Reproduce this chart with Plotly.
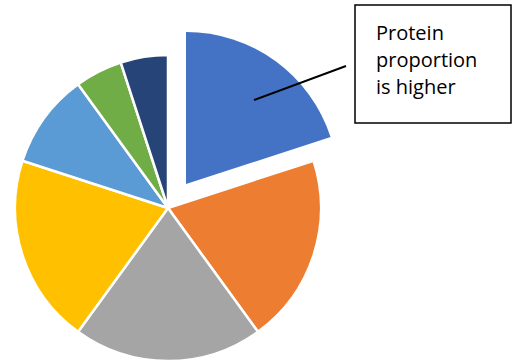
import plotly.graph_objects as go

W, H = 519, 363

categories = ["Protein", "Fat", "Carbohydrate", "Fibre", "Water", "Minerals", "Vitamins"]
values = [20, 20, 20, 20, 10, 5, 5]
colors = ["#4472C4", "#ED7D31", "#A5A5A5", "#FFC000", "#5B9BD5", "#70AD47", "#264478"]
highlight = "Protein"
note_lines = ["Protein", "proportion", "is higher"]


def px_x(x):
    return x / W


def px_y(y):
    return 1 - y / H


def domain(cx, cy, r):
    return dict(x=[px_x(cx - r), px_x(cx + r)], y=[px_y(cy + r), px_y(cy - r)])


R = 153
fig = go.Figure()
# all slices except the highlighted one
fig.add_trace(go.Pie(
    labels=categories, values=values, sort=False, direction="clockwise", rotation=0,
    marker=dict(colors=[c if cat != highlight else "rgba(0,0,0,0)" for c, cat in zip(colors, categories)],
                line=dict(color="white", width=[0 if cat == highlight else 2.5 for cat in categories])),
    textinfo="none", hoverinfo="label+value", showlegend=False,
    domain=domain(168, 208, R),
))
# exploded highlighted slice
fig.add_trace(go.Pie(
    labels=categories, values=values, sort=False, direction="clockwise", rotation=0,
    marker=dict(colors=[c if cat == highlight else "rgba(0,0,0,0)" for c, cat in zip(colors, categories)],
                line=dict(color="rgba(0,0,0,0)", width=0)),
    textinfo="none", hoverinfo="skip", showlegend=False,
    domain=domain(186, 184, R - 1),
))

fig.add_shape(type="rect", xref="paper", yref="paper",
              x0=px_x(355), x1=px_x(511), y0=px_y(123), y1=px_y(5),
              line=dict(color="black", width=1.5), fillcolor="white")
fig.add_shape(type="line", xref="paper", yref="paper",
              x0=px_x(254), y0=px_y(100), x1=px_x(346), y1=px_y(66),
              line=dict(color="black", width=2))

for i, t in enumerate(note_lines):
    fig.add_annotation(text=t, xref="paper", yref="paper",
                       x=px_x(374), y=px_y(32 + i * 27.5), xanchor="left", yanchor="middle",
                       showarrow=False, align="left",
                       font=dict(family="Open Sans", size=20, color="black"))

fig.update_layout(width=W, height=H, margin=dict(l=0, r=0, t=0, b=0),
                  paper_bgcolor="white", plot_bgcolor="white")
fig.write_html("out.html")
